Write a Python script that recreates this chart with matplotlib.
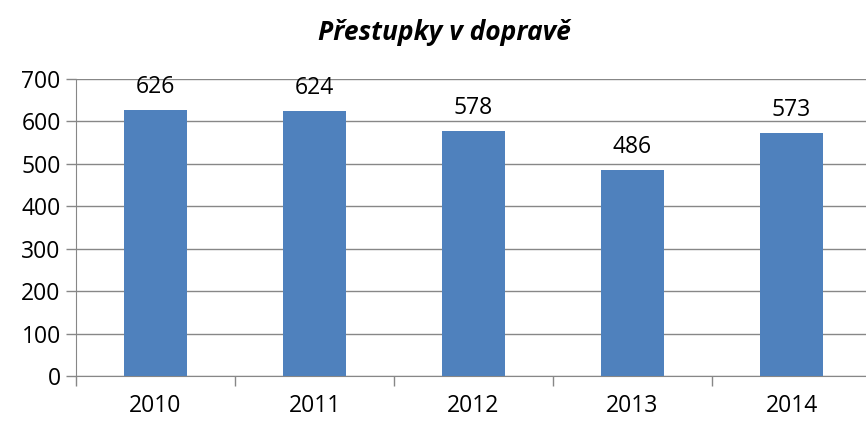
import matplotlib.pyplot as plt
import numpy as np

years = ["2010", "2011", "2012", "2013", "2014"]
values = [626, 624, 578, 486, 573]
title = "Přestupky v dopravě"

plt.rcParams["font.family"] = ["Open Sans", "DejaVu Sans"]

fig = plt.figure(figsize=(8.66, 4.21), dpi=100)
ax = fig.add_axes([76 / 866, 1 - 376 / 421, 795 / 866, 297 / 421])

x = np.arange(len(years))
bars = ax.bar(x, values, width=0.4, color="#4F81BD", zorder=3)
for b, v in zip(bars, values):
    ax.annotate(str(v), (b.get_x() + b.get_width() / 2, v), xytext=(0, 8),
                textcoords="offset points", ha="center", va="bottom", fontsize=16.5)

ax.set_xlim(-0.5, len(years) - 0.5)
ax.set_ylim(0, 700)
ax.set_yticks(range(0, 701, 100))
ax.grid(axis="y", color="#878787", linewidth=1, zorder=0)

ax.set_xticks(x)
ax.set_xticklabels(years)
ax.set_xticks(np.arange(-0.5, len(years)), minor=True)
ax.tick_params(axis="x", which="major", length=0, pad=13, labelsize=16.5)
ax.tick_params(axis="x", which="minor", length=7, color="#878787", width=1)
ax.tick_params(axis="y", length=7, color="#878787", width=1, labelsize=16.5, pad=4)

for s in ["top", "right"]:
    ax.spines[s].set_visible(False)
for s in ["left", "bottom"]:
    ax.spines[s].set_color("#878787")

fig.text(0.513, 1 - 32 / 421, title, ha="center", va="center",
         fontsize=19, fontweight="bold", fontstyle="italic")

fig.savefig("out.png")
